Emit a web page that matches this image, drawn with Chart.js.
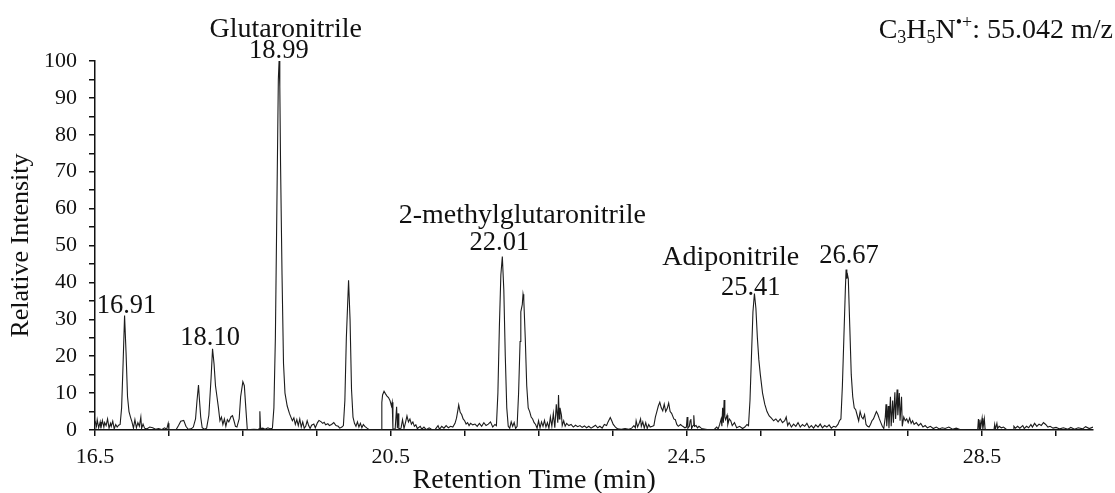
<!DOCTYPE html>
<html>
<head>
<meta charset="utf-8">
<script src="https://cdn.jsdelivr.net/npm/chart.js@4.4.1/dist/chart.umd.min.js"></script>
<style>
  html, body { margin: 0; padding: 0; background: #fff; }
  #wrap { width: 1115px; height: 493px; }
</style>
</head>
<body>
<div id="wrap"><canvas id="grafica" width="1115" height="493"></canvas></div>
<script>
const retentionTime = [
  16.50, 16.52, 16.53, 16.55, 16.57, 16.58, 16.60, 16.62, 16.63, 16.65, 16.67, 16.69, 16.71, 16.72, 16.74, 16.76, 16.78, 16.80, 16.82, 16.84,
  16.86, 16.88, 16.90, 16.92, 16.94, 16.96, 16.98, 17.00, 17.02, 17.04, 17.06, 17.08, 17.10, 17.12, 17.13, 17.15, 17.17, 17.20, 17.24, 17.28,
  17.32, 17.36, 17.40, 17.44, 17.47, 17.49, 17.50, 17.55, 17.60, 17.63, 17.66, 17.70, 17.73, 17.76, 17.80, 17.83, 17.86, 17.88, 17.90, 17.91,
  17.93, 17.95, 17.98, 18.01, 18.04, 18.07, 18.09, 18.11, 18.13, 18.15, 18.17, 18.19, 18.21, 18.23, 18.25, 18.27, 18.29, 18.31, 18.34, 18.36,
  18.38, 18.40, 18.42, 18.45, 18.47, 18.50, 18.52, 18.54, 18.56, 18.60, 18.65, 18.70, 18.72, 18.73, 18.74, 18.77, 18.80, 18.84, 18.87, 18.90,
  18.92, 18.94, 18.96, 18.98, 18.99, 19.00, 19.01, 19.03, 19.05, 19.07, 19.10, 19.13, 19.15, 19.17, 19.19, 19.21, 19.23, 19.25, 19.27, 19.29,
  19.31, 19.33, 19.35, 19.37, 19.39, 19.41, 19.43, 19.46, 19.48, 19.51, 19.53, 19.56, 19.58, 19.60, 19.62, 19.65, 19.67, 19.70, 19.73, 19.76,
  19.79, 19.81, 19.84, 19.86, 19.88, 19.90, 19.93, 19.95, 19.97, 19.99, 20.01, 20.03, 20.05, 20.07, 20.09, 20.11, 20.13, 20.15, 20.18, 20.21,
  20.30, 20.37, 20.38, 20.39, 20.41, 20.43, 20.45, 20.47, 20.49, 20.51, 20.52, 20.53, 20.56, 20.58, 20.59, 20.60, 20.61, 20.64, 20.66, 20.68,
  20.70, 20.72, 20.74, 20.76, 20.78, 20.80, 20.82, 20.84, 20.86, 20.90, 20.92, 20.95, 20.98, 21.02, 21.05, 21.10, 21.14, 21.16, 21.19, 21.22,
  21.25, 21.28, 21.31, 21.34, 21.37, 21.39, 21.41, 21.42, 21.44, 21.46, 21.48, 21.50, 21.52, 21.54, 21.56, 21.58, 21.61, 21.64, 21.67, 21.70,
  21.73, 21.76, 21.79, 21.82, 21.85, 21.88, 21.91, 21.93, 21.95, 21.97, 21.99, 22.01, 22.03, 22.05, 22.07, 22.09, 22.11, 22.13, 22.15, 22.17,
  22.19, 22.21, 22.23, 22.25, 22.26, 22.27, 22.28, 22.29, 22.30, 22.32, 22.34, 22.36, 22.38, 22.40, 22.42, 22.44, 22.46, 22.48, 22.50, 22.52,
  22.54, 22.56, 22.58, 22.60, 22.62, 22.64, 22.66, 22.68, 22.70, 22.72, 22.74, 22.76, 22.77, 22.78, 22.79, 22.81, 22.82, 22.84, 22.86, 22.88,
  22.91, 22.94, 22.97, 23.00, 23.03, 23.06, 23.09, 23.12, 23.15, 23.18, 23.21, 23.24, 23.27, 23.30, 23.33, 23.36, 23.39, 23.42, 23.44, 23.47,
  23.49, 23.51, 23.54, 23.57, 23.62, 23.67, 23.72, 23.76, 23.79, 23.81, 23.82, 23.84, 23.86, 23.88, 23.89, 23.91, 23.93, 23.95, 23.97, 23.99,
  24.01, 24.04, 24.06, 24.08, 24.10, 24.12, 24.14, 24.16, 24.18, 24.20, 24.22, 24.24, 24.26, 24.28, 24.30, 24.33, 24.35, 24.37, 24.39, 24.42,
  24.45, 24.48, 24.50, 24.51, 24.52, 24.54, 24.55, 24.56, 24.57, 24.59, 24.60, 24.61, 24.63, 24.65, 24.67, 24.70, 24.72, 24.78, 24.84, 24.88,
  24.91, 24.93, 24.95, 24.97, 24.98, 24.99, 25.00, 25.01, 25.02, 25.03, 25.05, 25.06, 25.08, 25.10, 25.12, 25.15, 25.18, 25.22, 25.26, 25.29,
  25.32, 25.34, 25.36, 25.38, 25.40, 25.42, 25.44, 25.46, 25.48, 25.50, 25.53, 25.56, 25.59, 25.62, 25.65, 25.68, 25.71, 25.74, 25.77, 25.80,
  25.83, 25.85, 25.87, 25.89, 25.92, 25.95, 25.98, 26.01, 26.04, 26.07, 26.10, 26.13, 26.16, 26.19, 26.22, 26.25, 26.28, 26.31, 26.34, 26.37,
  26.40, 26.43, 26.46, 26.49, 26.52, 26.55, 26.57, 26.59, 26.61, 26.63, 26.65, 26.66, 26.67, 26.68, 26.69, 26.71, 26.73, 26.75, 26.77, 26.79,
  26.81, 26.83, 26.85, 26.87, 26.89, 26.91, 26.93, 26.95, 26.97, 26.99, 27.01, 27.03, 27.05, 27.07, 27.09, 27.11, 27.13, 27.15, 27.17, 27.19,
  27.20, 27.21, 27.23, 27.24, 27.26, 27.27, 27.29, 27.30, 27.32, 27.33, 27.35, 27.36, 27.38, 27.39, 27.41, 27.42, 27.44, 27.46, 27.48, 27.50,
  27.52, 27.54, 27.56, 27.58, 27.61, 27.64, 27.67, 27.70, 27.73, 27.76, 27.80, 27.84, 27.88, 27.92, 27.96, 28.00, 28.05, 28.10, 28.15, 28.20,
  28.30, 28.44, 28.45, 28.46, 28.47, 28.48, 28.50, 28.51, 28.53, 28.54, 28.56, 28.66, 28.67, 28.68, 28.70, 28.71, 28.73, 28.76, 28.79, 28.82,
  28.86, 28.92, 28.93, 28.95, 28.98, 29.01, 29.05, 29.07, 29.10, 29.13, 29.16, 29.18, 29.21, 29.24, 29.27, 29.30, 29.33, 29.36, 29.39, 29.42,
  29.46, 29.50, 29.55, 29.60, 29.66, 29.70, 29.75, 29.80, 29.86, 29.90, 29.95, 30.00
];

// Intensidad relativa (%) para cada tiempo
const relIntensity = [
  2.5, 1.0, 2.8, 0.6, 2.2, 0.4, 2.6, 0.8, 2.0, 1.2, 3.0, 0.5, 1.8, 1.0, 2.4, 0.3, 1.5, 0.8, 1.3, 1.5,
  6, 18, 31, 21, 9, 5, 3.5, 2.2, 0.5, 2.8, 0.6, 2.0, 1.0, 3.5, 0.4, 1.6, 0.5, 0.3, 0.8, 0.6,
  0.2, 0.4, 0.1, 0.6, 0.2, 1.8, 0.1, 0.1, 0.2, 1.2, 2.4, 2.6, 1.0, 0.2, 0.3, 0.8, 3, 8, 12.2, 9,
  3.5, 0.6, 0.2, 0.5, 4, 14, 22, 18, 12, 9, 6, 2.5, 3.5, 1.5, 3.0, 1.0, 2.8, 2.2, 3.6, 3.9,
  2.5, 1.0, 0.8, 3, 9, 13.1, 12, 6, 0.2, 0.1, 0.2, 0.1, 0.3, 5.1, 0.4, 0.5, 0.2, 0.6, 0.3, 0.5,
  6, 25, 60, 95, 100, 93, 72, 42, 18, 10, 6.5, 4.5, 3.5, 2.5, 3.3, 1.5, 2.8, 1.2, 3.0, 0.8,
  2.2, 0.5, 1.0, 2.5, 1.2, 0.4, 1.3, 1.6, 0.6, 2.0, 2.6, 2.2, 1.8, 2.1, 1.4, 1.7, 1.2, 1.5, 2.0, 1.2,
  1.0, 0.5, 0.8, 1.2, 8, 25, 40.6, 30, 11, 3.5, 1.8, 1.0, 2.2, 0.8, 1.8, 0.6, 1.5, 1.0, 0.5, 0.1,
  0, 0, 7.5, 9.5, 10.5, 9.8, 9.2, 8.8, 8.0, 6.5, 7.5, 0.3, 0.2, 6.3, 0.5, 4.5, 0.3, 0.5, 2.8, 0.4,
  2.0, 3.8, 2.2, 3.0, 1.6, 2.2, 1.0, 1.4, 0.4, 1.0, 0.2, 0.8, 0.1, 0.6, 0.2, 0.1, 1.2, 0.2, 1.0, 0.5,
  1.2, 0.6, 1.0, 0.8, 1.8, 3.2, 5.5, 6.8, 4.8, 4.2, 3.0, 2.5, 1.6, 2.0, 1.2, 1.8, 1.4, 1.6, 1.0, 1.8,
  1.0, 2.0, 1.2, 1.6, 2.2, 0.8, 1.5, 1.2, 10, 28, 42, 47, 38, 20, 6, 1.0, 0.5, 2.2, 1.0, 2.0,
  0.4, 1.0, 10, 24, 32, 33, 34, 36.8, 35.5, 25, 12, 6, 5, 3.5, 3.0, 2.0, 1.5, 0.5, 2.5, 0.6,
  2.2, 1.0, 2.6, 0.8, 2.0, 0.5, 3.5, 1.0, 4.5, 0.6, 7.0, 2.0, 9.5, 3.0, 6.0, 4.0, 1.2, 2.5, 1.0, 1.8,
  1.2, 1.5, 0.8, 1.3, 0.9, 1.2, 0.7, 1.1, 0.6, 1.0, 0.5, 0.9, 1.3, 0.6, 1.0, 0.5, 1.5, 1.2, 2.2, 3.4,
  2.5, 1.5, 0.8, 0.3, 0.2, 0.4, 0.2, 0.5, 1.2, 0.6, 2.5, 0.8, 1.8, 3.0, 1.0, 2.2, 0.5, 2.0, 0.4, 1.5,
  0.8, 1.0, 1.2, 3.5, 5.0, 6.5, 7.5, 6.0, 5.2, 7.0, 5.0, 5.8, 7.3, 5.0, 4.5, 3.0, 2.8, 1.5, 1.0, 1.5,
  1.0, 0.6, 0.8, 3.5, 0.5, 1.0, 2.5, 3.0, 0.4, 1.2, 4.0, 1.0, 1.2, 0.6, 1.0, 0.5, 0.3, 0.1, 0.1, 0.2,
  0.8, 0.3, 1.5, 3.0, 1.0, 6.0, 2.0, 8.1, 3.5, 2.8, 4.0, 1.5, 3.0, 2.5, 1.2, 2.0, 0.6, 1.0, 0.4, 0.8,
  1.5, 1.2, 8, 20, 32, 37, 33, 25, 19, 15, 10, 7, 5, 3.8, 3.2, 2.5, 3.0, 2.2, 3.0, 2.0,
  2.5, 3.5, 1.2, 2.0, 0.8, 1.6, 1.0, 2.0, 0.8, 1.5, 1.0, 1.8, 0.6, 1.2, 0.5, 1.4, 0.8, 1.6, 0.6, 1.2,
  0.8, 1.4, 0.5, 1.0, 0.8, 1.5, 2.5, 3.0, 12, 25, 38, 43.5, 41, 42, 41, 28, 15, 9, 6, 5.5,
  4, 2.5, 5, 3.5, 3, 4.2, 1.5, 1.0, 0.8, 1.5, 2.5, 3.0, 4.0, 5.0, 4.2, 3.0, 2.0, 1.0, 0.4, 3.5,
  7.0, 1.0, 6.5, 0.5, 9.0, 1.0, 8.0, 2.0, 10.2, 3.0, 11.0, 4.0, 10.0, 2.5, 9.0, 1.0, 3.5, 2.5, 3.0, 2.0,
  3.2, 1.8, 2.5, 1.5, 2.0, 1.2, 1.8, 0.8, 1.2, 0.6, 1.0, 0.4, 0.8, 0.3, 0.6, 0.4, 0.8, 0.2, 0.5, 0.1,
  0, 0, 3.0, 0.3, 2.8, 0.5, 3.2, 0.2, 3.0, 0.3, 0, 0, 1.5, 0.2, 1.8, 0.4, 1.0, 0.6, 0.8, 0.3,
  0, 0, 1.0, 0.5, 1.0, 0.5, 1.2, 0.4, 1.0, 0.6, 1.5, 0.8, 1.8, 1.0, 1.6, 1.2, 2.0, 1.5, 0.8, 1.0,
  0.5, 0.7, 0.3, 0.6, 0.2, 0.7, 0.2, 0.6, 0.3, 0.9, 0.4, 0.8
];

// Marcas del eje X (cada minuto) y las que llevan número
const xTickValues = [16.5, 17.5, 18.5, 19.5, 20.5, 21.5, 22.5, 23.5, 24.5, 25.5, 26.5, 27.5, 28.5, 29.5];
const xTickLabels = [16.5, 20.5, 24.5, 28.5];

// Etiquetas de los picos (texto, tiempo central, nivel de la línea base del texto)
const peakLabelText = ['16.91', '18.10', '18.99', 'Glutaronitrile', '22.01', '2-methylglutaronitrile', '25.41', 'Adiponitrile', '26.67'];
const peakLabelTime = [16.926, 18.058, 18.987, 19.08, 21.97, 22.28, 25.37, 25.10, 26.70];
const peakLabelLevel = [31.7, 23.0, 100.8, 106.5, 48.8, 56.1, 36.6, 44.7, 45.3];

const serif = "'Liberation Serif', 'Times New Roman', serif";

// Dibuja etiquetas de picos, título del eje X y la fórmula del ion
const textosPlugin = {
  id: 'textos',
  afterDraw(chart) {
    const ctx = chart.ctx;
    const xs = chart.scales.x;
    const ys = chart.scales.y;
    ctx.save();
    ctx.fillStyle = '#111';
    ctx.textBaseline = 'alphabetic';
    ctx.textAlign = 'center';
    peakLabelText.forEach((t, i) => {
      // los números un poco más pequeños que los nombres
      ctx.font = (/^[0-9.]+$/.test(t) ? 26.5 : 28) + 'px ' + serif;
      ctx.fillText(t, xs.getPixelForValue(peakLabelTime[i]), ys.getPixelForValue(peakLabelLevel[i]));
    });

    // título del eje X
    ctx.font = '28px ' + serif;
    ctx.fillText('Retention Time (min)', xs.getPixelForValue(22.44), chart.height - 5);

    // C3H5N•+: 55.042 m/z (alineado a la derecha)
    const partes = [
      { t: 'C', size: 28, dy: 0 },
      { t: '3', size: 18, dy: 5 },
      { t: 'H', size: 28, dy: 0 },
      { t: '5', size: 18, dy: 5 },
      { t: 'N', size: 28, dy: 0 },
      { t: '\u2022+', size: 18, dy: -10 },
      { t: ': 55.042 m/z', size: 28, dy: 0 }
    ];
    let total = 0;
    partes.forEach(p => { ctx.font = p.size + 'px ' + serif; p.w = ctx.measureText(p.t).width; total += p.w; });
    let x = chart.width - 2 - total;
    const base = 38;
    ctx.textAlign = 'left';
    partes.forEach(p => {
      ctx.font = p.size + 'px ' + serif;
      ctx.fillText(p.t, x, base + p.dy);
      x += p.w;
    });
    ctx.restore();
  }
};

const ctx = document.getElementById('grafica').getContext('2d');
new Chart(ctx, {
  type: 'line',
  data: {
    datasets: [{
      label: 'C3H5N 55.042 m/z',
      data: retentionTime.map((t, i) => ({ x: t, y: relIntensity[i] })),
      borderColor: '#1c1c1c',
      borderWidth: 1.1,
      pointRadius: 0,
      tension: 0,
      fill: false
    }]
  },
  options: {
    responsive: false,
    animation: false,
    devicePixelRatio: 1,
    layout: { padding: { top: 61, right: 22, left: 0, bottom: 0 } },
    plugins: {
      legend: { display: false },
      tooltip: { enabled: false }
    },
    scales: {
      x: {
        type: 'linear',
        min: 16.5,
        max: 30,
        afterBuildTicks(scale) {
          scale.ticks = xTickValues.map(v => ({ value: v }));
        },
        afterFit(scale) { scale.height = 63; },
        ticks: {
          autoSkip: false,
          maxRotation: 0,
          padding: 8,
          color: '#111',
          font: { family: serif, size: 22 },
          callback: v => xTickLabels.includes(v) ? v.toFixed(1) : ''
        },
        grid: { drawOnChartArea: false, drawTicks: true, tickLength: 6, color: '#111', lineWidth: 1.5 },
        border: { color: '#111', width: 1.5 }
      },
      y: {
        min: 0,
        max: 100,
        afterFit(scale) { scale.width = 95; },
        ticks: {
          stepSize: 5,
          autoSkip: false,
          padding: 12,
          color: '#111',
          font: { family: serif, size: 22 },
          callback: v => v % 10 === 0 ? v : ''
        },
        grid: { drawOnChartArea: false, drawTicks: true, tickLength: 6, color: '#111', lineWidth: 1.5 },
        border: { color: '#111', width: 1.5 },
        title: {
          display: true,
          text: 'Relative Intensity',
          color: '#111',
          font: { family: serif, size: 26 },
          padding: { top: 6, bottom: 0 }
        }
      }
    }
  },
  plugins: [textosPlugin]
});
</script>
</body>
</html>
